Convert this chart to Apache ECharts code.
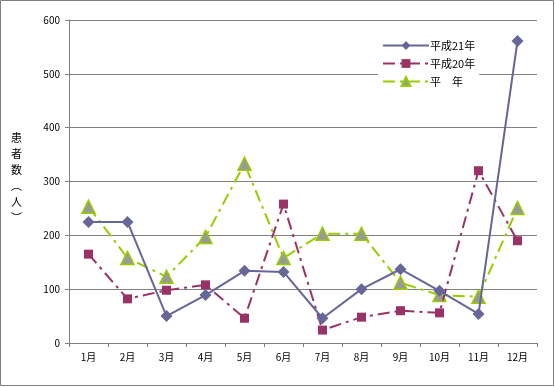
<!DOCTYPE html>
<html><head><meta charset="utf-8">
<script src="https://cdn.jsdelivr.net/npm/echarts@6/dist/echarts.min.js"></script>
<style>html,body{margin:0;padding:0;background:#fff}#c{width:555px;height:387px}</style>
</head><body><div id="c"></div>
<script>
const categories = ['1月','2月','3月','4月','5月','6月','7月','8月','9月','10月','11月','12月'];
const h21 = [225,225,50,89,134,132,46,100,137,97,54,561];
const h20 = [165,82,98,108,46,258,24,48,60,56,320,190];
const normal = [253,158,123,197,333,158,203,203,112,89,86,251];
const yTicks = [0,100,200,300,400,500,600];

const font = '"Noto Sans CJK JP", sans-serif';
const chart = echarts.init(document.getElementById('c'));
chart.setOption({
  backgroundColor:'#fff',
  animation:false,
  grid:{left:69,right:18,top:20,bottom:44},
  legend:{
    orient:'vertical', left:378, top:38, itemWidth:46, itemHeight:11, itemGap:7,
    backgroundColor:'#fff', padding:[2,4,2,4],
    textStyle:{fontFamily:font,fontSize:11,color:'#000',padding:[0,0,0,-4]},
    data:['平成21年','平成20年','平　年']
  },
  xAxis:{
    type:'category', data:categories,
    axisLine:{lineStyle:{color:'#808080',width:1}},
    axisTick:{show:true,length:4,lineStyle:{color:'#808080'}},
    axisLabel:{fontFamily:font,fontSize:10,color:'#000',margin:9}
  },
  yAxis:{
    type:'value', min:yTicks[0], max:yTicks[yTicks.length-1], interval:100,
    axisLine:{show:true,lineStyle:{color:'#808080'}},
    axisTick:{show:true,length:4,inside:false,lineStyle:{color:'#808080'}},
    splitLine:{lineStyle:{color:'#808080',width:1}},
    axisLabel:{fontFamily:font,fontSize:10,color:'#000',margin:9}
  },
  graphic:[
    {type:'rect',shape:{x:0.5,y:0.5,width:553,height:385},style:{fill:'none',stroke:'#808080',lineWidth:1},silent:true,z:-1},
    {type:'text',left:11,top:130,style:{text:'患\n者\n数\n︵\n人\n︶',font:'11px '+font,fill:'#000',lineHeight:16,align:'center'}}
  ],
  series:[
    {name:'平成21年',type:'line',data:h21,symbol:'diamond',symbolSize:12,
     lineStyle:{color:'#666699',width:2},itemStyle:{color:'#666699'},z:3},
    {name:'平成20年',type:'line',data:h20,symbol:'rect',symbolSize:9,
     lineStyle:{color:'#993366',width:2,type:[12,5,3,5]},itemStyle:{color:'#993366'},z:2},
    {name:'平　年',type:'line',data:normal,symbol:'triangle',symbolSize:13,
     lineStyle:{color:'#99CC00',width:2,type:[12,5,3,5]},itemStyle:{color:'#999999',borderColor:'#99CC00',borderWidth:1.5},z:1}
  ]
});
</script></body></html>
